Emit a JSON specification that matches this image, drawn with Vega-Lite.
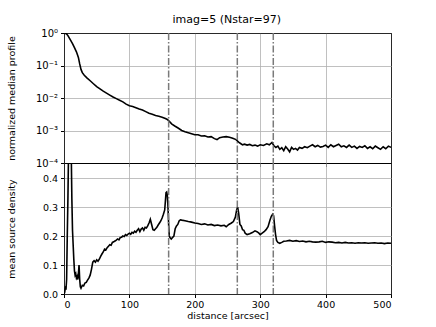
{
  "$schema": "https://vega.github.io/schema/vega-lite/v6.json",
  "padding": {"left": 5, "top": 13, "right": 5, "bottom": 5},
  "background": "white",
  "title": {"text": "imag=5 (Nstar=97)", "anchor": "middle", "fontSize": 11, "fontWeight": "normal", "font": "DejaVu Sans", "offset": 3, "dx": 28, "color": "black"},
  "datasets": {
    "profile": [
      {"d":0,"p":1.0},{"d":2,"p":0.977},{"d":4,"p":0.933},{"d":6,"p":0.832},{"d":8,"p":0.708},{"d":10,"p":0.603},{"d":13,"p":0.468},{"d":16,"p":0.355},{"d":19,"p":0.263},{"d":22,"p":0.178},{"d":24,"p":0.112},{"d":26,"p":0.0759},{"d":28,"p":0.0603},{"d":31,"p":0.0501},{"d":35,"p":0.0417},{"d":40,"p":0.0339},{"d":45,"p":0.0275},{"d":50,"p":0.0224},{"d":55,"p":0.0191},{"d":60,"p":0.0162},{"d":65,"p":0.0141},{"d":70,"p":0.0123},{"d":75,"p":0.0107},{"d":80,"p":0.00955},{"d":85,"p":0.00851},{"d":90,"p":0.00759},{"d":95,"p":0.00646},{"d":100,"p":0.00575},{"d":105,"p":0.0055},{"d":110,"p":0.00501},{"d":115,"p":0.00457},{"d":120,"p":0.00427},{"d":125,"p":0.0038},{"d":130,"p":0.00339},{"d":135,"p":0.00316},{"d":140,"p":0.00288},{"d":145,"p":0.00275},{"d":150,"p":0.00257},{"d":155,"p":0.00234},{"d":158,"p":0.00219},{"d":161,"p":0.00191},{"d":165,"p":0.00158},{"d":170,"p":0.00135},{"d":175,"p":0.00117},{"d":180,"p":0.001},{"d":185,"p":0.000912},{"d":190,"p":0.000851},{"d":195,"p":0.000794},{"d":200,"p":0.000741},{"d":205,"p":0.000741},{"d":210,"p":0.000676},{"d":215,"p":0.000692},{"d":220,"p":0.000631},{"d":225,"p":0.000646},{"d":230,"p":0.000562},{"d":234,"p":0.000525},{"d":238,"p":0.000603},{"d":243,"p":0.000631},{"d":248,"p":0.000646},{"d":253,"p":0.000617},{"d":258,"p":0.000575},{"d":263,"p":0.000525},{"d":267,"p":0.000437},{"d":270,"p":0.000398},{"d":273,"p":0.000363},{"d":276,"p":0.00038},{"d":280,"p":0.000355},{"d":284,"p":0.000372},{"d":288,"p":0.000339},{"d":292,"p":0.000355},{"d":296,"p":0.000331},{"d":300,"p":0.000363},{"d":305,"p":0.000347},{"d":310,"p":0.000389},{"d":314,"p":0.000363},{"d":318,"p":0.000427},{"d":321,"p":0.000339},{"d":324,"p":0.000302},{"d":327,"p":0.000331},{"d":330,"p":0.000263},{"d":333,"p":0.000295},{"d":336,"p":0.00024},{"d":339,"p":0.000316},{"d":342,"p":0.000269},{"d":345,"p":0.000219},{"d":348,"p":0.000302},{"d":351,"p":0.000263},{"d":354,"p":0.000282},{"d":357,"p":0.000251},{"d":360,"p":0.000302},{"d":364,"p":0.000282},{"d":368,"p":0.000316},{"d":372,"p":0.000295},{"d":376,"p":0.000331},{"d":380,"p":0.000363},{"d":384,"p":0.000316},{"d":388,"p":0.000347},{"d":392,"p":0.000309},{"d":396,"p":0.000324},{"d":400,"p":0.000355},{"d":404,"p":0.000302},{"d":408,"p":0.000363},{"d":412,"p":0.000316},{"d":416,"p":0.000347},{"d":420,"p":0.00038},{"d":424,"p":0.000316},{"d":428,"p":0.000339},{"d":432,"p":0.000302},{"d":436,"p":0.000355},{"d":440,"p":0.000302},{"d":444,"p":0.000331},{"d":448,"p":0.000282},{"d":452,"p":0.000324},{"d":456,"p":0.000302},{"d":460,"p":0.000339},{"d":464,"p":0.000282},{"d":468,"p":0.000316},{"d":472,"p":0.000275},{"d":476,"p":0.000331},{"d":480,"p":0.000295},{"d":484,"p":0.000263},{"d":488,"p":0.000316},{"d":492,"p":0.000275},{"d":496,"p":0.000331},{"d":500,"p":0.000302}
    ],
    "density": [
      {"d":0,"v":0.0},{"d":1,"v":0.005},{"d":2,"v":0.02},{"d":3,"v":0.015},{"d":4,"v":0.05},{"d":5,"v":0.2},{"d":6,"v":0.33},{"d":7,"v":0.5},{"d":8,"v":0.6},{"d":10,"v":0.6},{"d":11,"v":0.5},{"d":12,"v":0.33},{"d":13,"v":0.22},{"d":14,"v":0.17},{"d":15,"v":0.12},{"d":16,"v":0.08},{"d":17,"v":0.065},{"d":18,"v":0.07},{"d":19,"v":0.055},{"d":20,"v":0.06},{"d":21,"v":0.05},{"d":22,"v":0.07},{"d":23,"v":0.1},{"d":24,"v":0.05},{"d":25,"v":0.025},{"d":26,"v":0.02},{"d":27,"v":0.025},{"d":28,"v":0.03},{"d":30,"v":0.028},{"d":32,"v":0.038},{"d":34,"v":0.04},{"d":36,"v":0.048},{"d":38,"v":0.055},{"d":40,"v":0.065},{"d":42,"v":0.085},{"d":44,"v":0.11},{"d":46,"v":0.115},{"d":48,"v":0.11},{"d":50,"v":0.118},{"d":52,"v":0.113},{"d":54,"v":0.12},{"d":56,"v":0.13},{"d":58,"v":0.138},{"d":60,"v":0.145},{"d":62,"v":0.155},{"d":64,"v":0.152},{"d":66,"v":0.16},{"d":68,"v":0.165},{"d":70,"v":0.17},{"d":72,"v":0.168},{"d":74,"v":0.178},{"d":76,"v":0.18},{"d":78,"v":0.183},{"d":80,"v":0.186},{"d":82,"v":0.19},{"d":84,"v":0.187},{"d":86,"v":0.195},{"d":88,"v":0.196},{"d":90,"v":0.2},{"d":92,"v":0.198},{"d":94,"v":0.205},{"d":96,"v":0.202},{"d":98,"v":0.207},{"d":100,"v":0.21},{"d":102,"v":0.206},{"d":104,"v":0.213},{"d":106,"v":0.21},{"d":108,"v":0.217},{"d":110,"v":0.213},{"d":112,"v":0.22},{"d":114,"v":0.225},{"d":116,"v":0.215},{"d":118,"v":0.224},{"d":120,"v":0.228},{"d":122,"v":0.22},{"d":124,"v":0.23},{"d":126,"v":0.228},{"d":128,"v":0.235},{"d":130,"v":0.245},{"d":132,"v":0.258},{"d":134,"v":0.24},{"d":136,"v":0.222},{"d":138,"v":0.22},{"d":140,"v":0.225},{"d":142,"v":0.23},{"d":144,"v":0.238},{"d":146,"v":0.245},{"d":148,"v":0.252},{"d":150,"v":0.262},{"d":152,"v":0.275},{"d":154,"v":0.29},{"d":156,"v":0.35},{"d":157,"v":0.352},{"d":158,"v":0.34},{"d":159,"v":0.3},{"d":160,"v":0.24},{"d":161,"v":0.2},{"d":162,"v":0.195},{"d":164,"v":0.19},{"d":166,"v":0.195},{"d":168,"v":0.2},{"d":170,"v":0.225},{"d":172,"v":0.235},{"d":174,"v":0.24},{"d":176,"v":0.252},{"d":178,"v":0.256},{"d":180,"v":0.255},{"d":185,"v":0.253},{"d":190,"v":0.25},{"d":195,"v":0.248},{"d":200,"v":0.245},{"d":205,"v":0.243},{"d":210,"v":0.24},{"d":215,"v":0.242},{"d":220,"v":0.238},{"d":225,"v":0.24},{"d":230,"v":0.236},{"d":235,"v":0.238},{"d":240,"v":0.235},{"d":245,"v":0.237},{"d":248,"v":0.232},{"d":252,"v":0.24},{"d":256,"v":0.245},{"d":259,"v":0.25},{"d":262,"v":0.265},{"d":264,"v":0.29},{"d":265.5,"v":0.3},{"d":267,"v":0.28},{"d":269,"v":0.24},{"d":271,"v":0.235},{"d":273,"v":0.222},{"d":275,"v":0.22},{"d":277,"v":0.21},{"d":280,"v":0.205},{"d":284,"v":0.208},{"d":288,"v":0.212},{"d":292,"v":0.218},{"d":295,"v":0.215},{"d":298,"v":0.21},{"d":300,"v":0.205},{"d":303,"v":0.21},{"d":306,"v":0.215},{"d":309,"v":0.222},{"d":312,"v":0.232},{"d":315,"v":0.255},{"d":317,"v":0.268},{"d":319,"v":0.275},{"d":320.5,"v":0.27},{"d":322,"v":0.235},{"d":323.5,"v":0.205},{"d":325,"v":0.185},{"d":327,"v":0.178},{"d":330,"v":0.175},{"d":333,"v":0.178},{"d":336,"v":0.182},{"d":340,"v":0.183},{"d":345,"v":0.185},{"d":350,"v":0.182},{"d":355,"v":0.184},{"d":360,"v":0.181},{"d":365,"v":0.183},{"d":370,"v":0.18},{"d":375,"v":0.182},{"d":380,"v":0.18},{"d":385,"v":0.179},{"d":390,"v":0.18},{"d":395,"v":0.182},{"d":400,"v":0.178},{"d":405,"v":0.18},{"d":410,"v":0.179},{"d":415,"v":0.177},{"d":420,"v":0.178},{"d":425,"v":0.176},{"d":430,"v":0.178},{"d":435,"v":0.176},{"d":440,"v":0.177},{"d":445,"v":0.175},{"d":450,"v":0.177},{"d":455,"v":0.176},{"d":460,"v":0.177},{"d":465,"v":0.175},{"d":470,"v":0.176},{"d":475,"v":0.177},{"d":480,"v":0.175},{"d":485,"v":0.176},{"d":490,"v":0.174},{"d":495,"v":0.176},{"d":500,"v":0.175}
    ],
    "marks": [{"d":160},{"d":265},{"d":320}]
  },
  "spacing": 0,
  "bounds": "flush",
  "config": {
    "font": "DejaVu Sans",
    "view": {"stroke": "black", "strokeWidth": 1},
    "axis": {
      "labelFont": "DejaVu Sans", "titleFont": "DejaVu Sans",
      "labelFontSize": 9.5, "titleFontSize": 9.5, "titleFontWeight": "normal",
      "labelColor": "black", "titleColor": "black",
      "tickColor": "black", "tickSize": 3.5, "domain": false,
      "gridWidth": 0.8, "gridOpacity": 1,
      "labelPadding": 3
    }
  },
  "vconcat": [
    {
      "width": 327, "height": 130,
      "layer": [
        {
          "data": {"name": "profile"},
          "mark": {"type": "line", "color": "black", "strokeWidth": 1.6, "clip": true},
          "encoding": {
            "x": {"field": "d", "type": "quantitative", "scale": {"domain": [0, 500], "nice": false},
                  "axis": {"labels": false, "title": null, "values": [0,100,200,300,400,500],
                           "gridColor": {"condition": {"test": "datum.value == 0 || datum.value == 500", "value": "#333333"}, "value": "#b0b0b0"}}},
            "y": {"field": "p", "type": "quantitative",
                  "scale": {"type": "log", "domain": [0.0001, 1], "nice": false},
                  "axis": {"title": "normalized median profile", "values": [0.0001,0.001,0.01,0.1,1],
                           "labelExpr": "datum.value > 0.5 ? '10⁰' : datum.value > 0.05 ? '10⁻¹' : datum.value > 0.005 ? '10⁻²' : datum.value > 0.0005 ? '10⁻³' : '10⁻⁴'",
                           "gridColor": {"condition": {"test": "datum.value > 0.5", "value": "#333333"}, "value": "#b0b0b0"},
                           "titleX": -48, "labelFontSize": 10}}
          }
        },
        {
          "data": {"name": "marks"},
          "mark": {"type": "rule", "color": "#7a7a7a", "strokeWidth": 1.5, "strokeDash": [7, 2, 1.5, 2]},
          "encoding": {"x": {"field": "d", "type": "quantitative"}}
        }
      ]
    },
    {
      "width": 327, "height": 131,
      "layer": [
        {
          "data": {"name": "density"},
          "mark": {"type": "line", "color": "black", "strokeWidth": 1.6, "clip": true},
          "encoding": {
            "x": {"field": "d", "type": "quantitative", "scale": {"domain": [0, 500], "nice": false},
                  "axis": {"title": "distance [arcsec]", "values": [0,100,200,300,400,500], "titlePadding": 1, "labelPadding": 2,
                           "gridColor": {"condition": {"test": "datum.value == 0 || datum.value == 500", "value": "#333333"}, "value": "#b0b0b0"}}},
            "y": {"field": "v", "type": "quantitative",
                  "scale": {"domain": [0, 0.452], "nice": false, "zero": true},
                  "axis": {"title": "mean source density", "values": [0,0.1,0.2,0.3,0.4], "format": ".1f",
                           "gridColor": {"condition": {"test": "datum.value == 0", "value": "#333333"}, "value": "#b0b0b0"},
                           "titleX": -48}}
          }
        },
        {
          "data": {"name": "marks"},
          "mark": {"type": "rule", "color": "#7a7a7a", "strokeWidth": 1.5, "strokeDash": [7, 2, 1.5, 2]},
          "encoding": {"x": {"field": "d", "type": "quantitative"}}
        }
      ]
    }
  ]
}
